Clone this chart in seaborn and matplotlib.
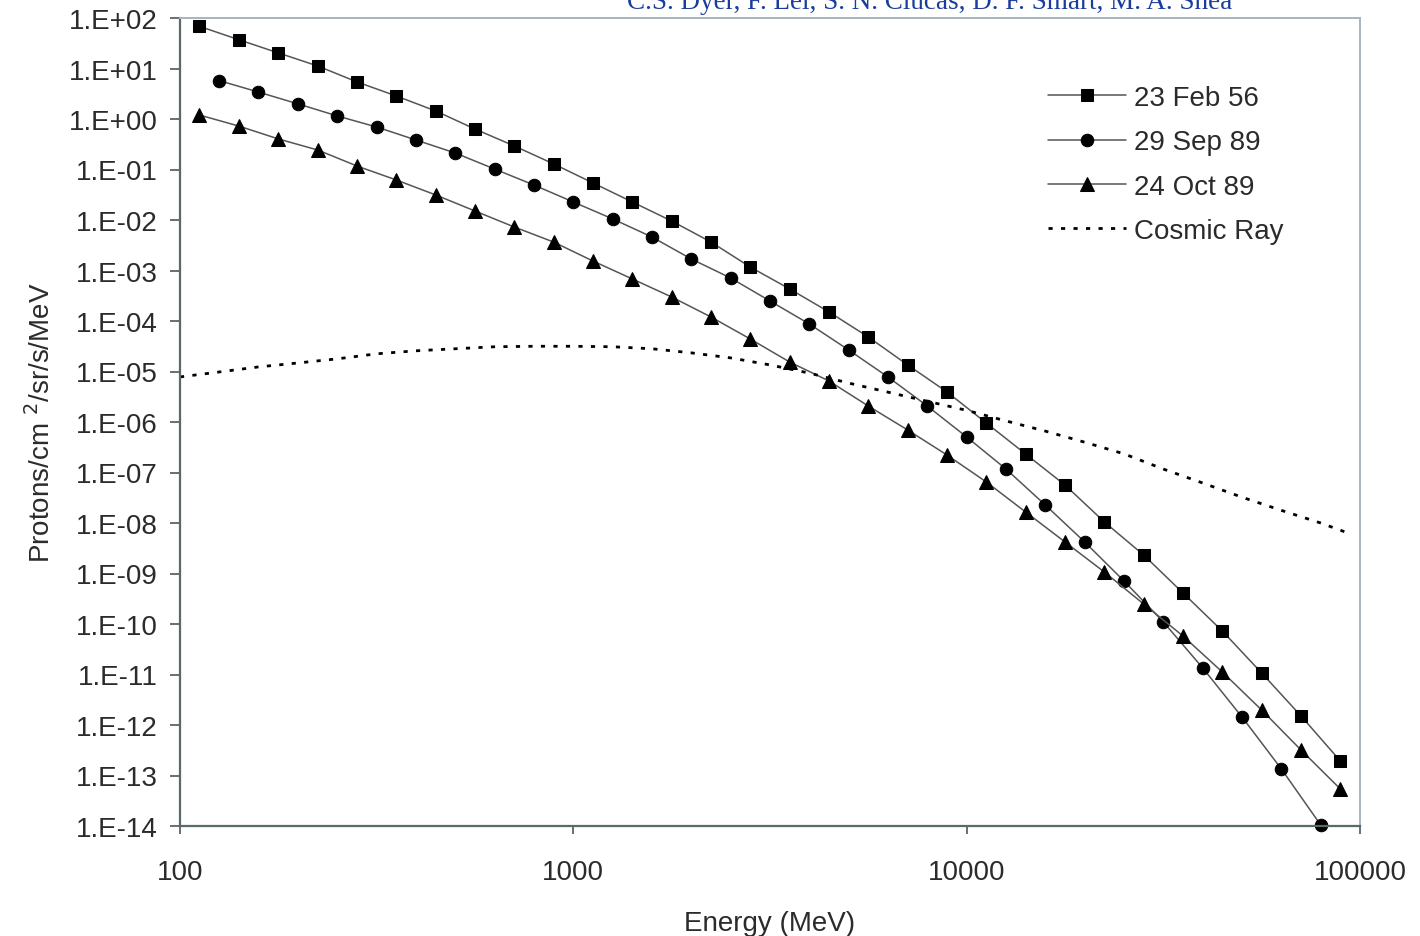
import numpy as np
import pandas as pd
import seaborn as sns
import matplotlib
matplotlib.use("Agg")
import matplotlib.pyplot as plt
from matplotlib.ticker import FixedLocator, FuncFormatter, NullLocator

# ---------------- data ----------------
energy_feb56 = [112, 141, 178, 224, 282, 355, 447, 562, 708, 891, 1122, 1413, 1778, 2239,
                2818, 3548, 4467, 5623, 7079, 8913, 11220, 14125, 17783, 22387, 28184,
                35481, 44668, 56234, 70795, 89125]
flux_feb56 = [68.5, 37.2, 20.3, 11.2, 5.41, 2.85, 1.44, 0.634, 0.292, 0.129, 0.0541,
              0.0227, 0.00955, 0.00366, 0.00117, 4.31e-4, 1.51e-4, 4.82e-5, 1.35e-5,
              3.93e-6, 9.55e-7, 2.32e-7, 5.65e-8, 1.05e-8, 2.32e-9, 4.11e-10, 7.26e-11,
              1.07e-11, 1.51e-12, 1.94e-13]

energy_sep89 = [126, 158, 200, 251, 316, 398, 501, 631, 794, 1000, 1259, 1585, 1995, 2512,
                3162, 3981, 5012, 6310, 7943, 10000, 12589, 15849, 19953, 25119, 31623,
                39811, 50119, 63096, 79433]
flux_sep89 = [5.73, 3.43, 1.98, 1.15, 0.695, 0.384, 0.212, 0.102, 0.0493, 0.0227, 0.0105,
              0.0046, 0.00169, 7.10e-4, 2.49e-4, 8.73e-5, 2.67e-5, 7.78e-6, 2.07e-6,
              5.05e-7, 1.17e-7, 2.27e-8, 4.21e-9, 7.10e-10, 1.10e-10, 1.35e-11, 1.44e-12,
              1.35e-13, 1.05e-14]

energy_oct89 = [112, 141, 178, 224, 282, 355, 447, 562, 708, 891, 1122, 1413, 1778, 2239,
                2818, 3548, 4467, 5623, 7079, 8913, 11220, 14125, 17783, 22387, 28184,
                35481, 44668, 56234, 70795, 89125]
flux_oct89 = [1.20, 0.726, 0.402, 0.243, 0.117, 0.0619, 0.0313, 0.0151, 0.00726, 0.00366,
              0.00154, 6.79e-4, 2.99e-4, 1.20e-4, 4.40e-5, 1.54e-5, 6.49e-6, 2.07e-6,
              6.95e-7, 2.22e-7, 6.49e-8, 1.65e-8, 4.21e-9, 1.07e-9, 2.49e-10, 5.78e-11,
              1.12e-11, 1.98e-12, 3.20e-13, 5.41e-14]

energy_cosmic = [100, 126, 158, 200, 251, 316, 398, 501, 631, 794, 1000, 1259, 1585, 1995,
                 2512, 3162, 3981, 5012, 6310, 7943, 10000, 12589, 15849, 19953, 25119,
                 31623, 39811, 50119, 63096, 79433, 95000]
flux_cosmic = [7.8e-6, 9.8e-6, 1.23e-5, 1.48e-5, 1.78e-5, 2.24e-5, 2.57e-5, 2.82e-5,
               3.09e-5, 3.16e-5, 3.16e-5, 3.09e-5, 2.82e-5, 2.34e-5, 1.86e-5, 1.35e-5,
               9.3e-6, 5.9e-6, 3.9e-6, 2.57e-6, 1.70e-6, 1.05e-6, 6.6e-7, 3.98e-7,
               2.34e-7, 1.17e-7, 6.2e-8, 3.24e-8, 1.78e-8, 1.0e-8, 6.0e-9]

series_labels = ["23 Feb 56", "29 Sep 89", "24 Oct 89", "Cosmic Ray"]
x_ticks = [100, 1000, 10000, 100000]
y_exponents = list(range(-14, 3))
author_line = "C.S. Dyer, F. Lei, S. N. Clucas, D. F. Smart, M. A. Shea"

# ---------------- figure ----------------
sns.set_style("white")
plt.rcParams['font.family'] = ['Liberation Sans', 'DejaVu Sans']

fig = plt.figure(figsize=(14.2, 9.37), dpi=100)
ax = fig.add_axes([180 / 1420, 1 - 827 / 937, (1360 - 180) / 1420, (827 - 19) / 937])
ax.set_xscale('log')
ax.set_yscale('log')

line_col = '#555555'
common = dict(ax=ax, estimator=None, sort=False, color=line_col, linewidth=1.1,
              markerfacecolor='black', markeredgecolor='black', clip_on=False)

sns.lineplot(x=energy_feb56, y=flux_feb56, marker='s', markersize=8.5,
             label=series_labels[0], **common)
sns.lineplot(x=energy_sep89, y=flux_sep89, marker='o', markersize=9,
             label=series_labels[1], **common)
sns.lineplot(x=energy_oct89, y=flux_oct89, marker='^', markersize=9.5,
             label=series_labels[2], **common)
sns.lineplot(x=energy_cosmic, y=flux_cosmic, ax=ax, estimator=None, sort=False,
             color='black', linewidth=2.0, dashes=False, linestyle=(0, (1.5, 3.0)),
             label=series_labels[3])

ax.set_xlim(100, 100000)
ax.set_ylim(1e-14, 1e2)

ax.xaxis.set_major_locator(FixedLocator(x_ticks))
ax.xaxis.set_minor_locator(NullLocator())
ax.xaxis.set_major_formatter(FuncFormatter(lambda v, p: f"{int(round(v))}"))
ax.yaxis.set_major_locator(FixedLocator([10.0 ** e for e in y_exponents]))
ax.yaxis.set_minor_locator(NullLocator())
ax.yaxis.set_major_formatter(
    FuncFormatter(lambda v, p: "1.E" + format(int(round(np.log10(v))), '+03d')))

txt_col = '#2b2b2b'
fs = 20
ax.tick_params(axis='y', direction='out', length=7, width=1.2, color='#555555',
               labelsize=fs, labelcolor=txt_col, pad=9, left=True)
ax.tick_params(axis='x', direction='out', length=6, width=1.2, color='#555555',
               labelsize=fs, labelcolor=txt_col, pad=18, bottom=True)

for s in ['left', 'bottom']:
    ax.spines[s].set_color('#5a6a6a')
    ax.spines[s].set_linewidth(1.6)
for s in ['top', 'right']:
    ax.spines[s].set_color('#a8b4c0')
    ax.spines[s].set_linewidth(1.4)

ax.set_xlabel("Energy (MeV)", fontsize=fs, color=txt_col, labelpad=18)
ax.set_ylabel("Protons/cm $^{2}$/sr/s/MeV", fontsize=fs, color=txt_col, labelpad=9)

leg = ax.legend(loc='upper left', bbox_to_anchor=((1037 - 180) / 1180, 1 - (75 - 19) / 808),
                frameon=False, fontsize=fs, handlelength=2.8, handletextpad=0.3,
                labelspacing=0.66, borderaxespad=0)
for t in leg.get_texts():
    t.set_color(txt_col)

fig.text(930 / 1420, 1 - 9 / 937, author_line, ha='center', va='baseline',
         fontsize=19.5, color='#1a3c9c', family=['Liberation Serif', 'DejaVu Serif'])

fig.savefig("out.png", dpi=100, facecolor='white')
